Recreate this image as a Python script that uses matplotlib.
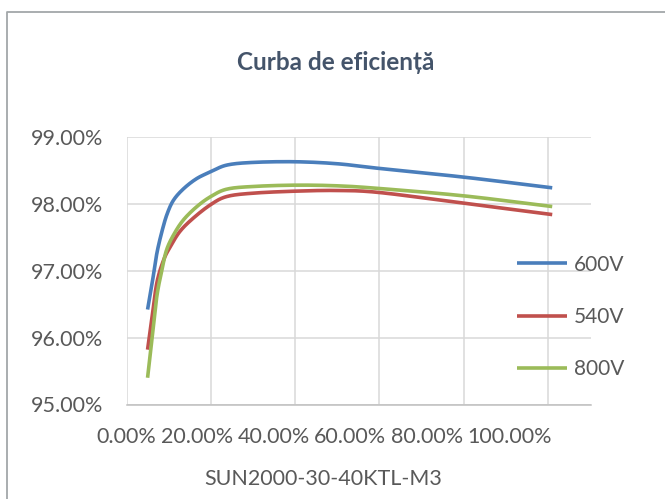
import numpy as np
import matplotlib
matplotlib.use("Agg")
import matplotlib.pyplot as plt
from matplotlib.lines import Line2D
from matplotlib.ticker import FuncFormatter

plt.rcParams['font.family'] = ['Lato', 'DejaVu Sans']

# valori (sarcina ca fractie, randament in %)
load_600 = [0.05, 0.061, 0.072, 0.085, 0.097, 0.112, 0.136, 0.167, 0.20, 0.238, 0.30, 0.40, 0.50, 0.60, 0.80, 1.01]
eff_600 = [96.42, 96.82, 97.26, 97.61, 97.86, 98.06, 98.23, 98.38, 98.48, 98.58, 98.62, 98.63, 98.60, 98.53, 98.40, 98.24]

load_540 = [0.05, 0.061, 0.072, 0.088, 0.104, 0.127, 0.159, 0.20, 0.238, 0.30, 0.40, 0.50, 0.60, 0.80, 1.01]
eff_540 = [95.82, 96.32, 96.82, 97.16, 97.36, 97.59, 97.79, 97.99, 98.11, 98.16, 98.19, 98.20, 98.17, 98.01, 97.84]

load_800 = [0.05, 0.061, 0.072, 0.084, 0.095, 0.112, 0.135, 0.167, 0.20, 0.238, 0.30, 0.40, 0.50, 0.60, 0.80, 1.01]
eff_800 = [95.40, 96.02, 96.62, 97.01, 97.31, 97.54, 97.76, 97.96, 98.11, 98.22, 98.26, 98.28, 98.27, 98.23, 98.12, 97.96]

series = ["600V", "540V", "800V"]
x_ticks = [0.0, 0.2, 0.4, 0.6, 0.8, 1.0]
y_ticks = [95, 96, 97, 98, 99]

colors = {"600V": "#4a7ebb", "540V": "#c0504d", "800V": "#9bbb59"}
txt = "#595959"


def smooth(x, y, n=24):
    # linie netezita ca in Excel (Catmull-Rom)
    p = np.column_stack([x, y]).astype(float)
    p = np.vstack([2 * p[0] - p[1], p, 2 * p[-1] - p[-2]])
    t = np.linspace(0, 1, n)[:, None]
    out = []
    for i in range(1, len(p) - 2):
        p0, p1, p2, p3 = p[i - 1], p[i], p[i + 1], p[i + 2]
        c = 0.5 * (2 * p1 + (-p0 + p2) * t + (2 * p0 - 5 * p1 + 4 * p2 - p3) * t ** 2
                   + (-p0 + 3 * p1 - 3 * p2 + p3) * t ** 3)
        out.append(c if i == 1 else c[1:])
    out = np.vstack(out)
    return out[:, 0], out[:, 1]


fig = plt.figure(figsize=(6.65, 4.99), dpi=100)
ax = fig.add_axes([126.5 / 665, 1 - 404.5 / 499, (591 - 126.5) / 665, (404.5 - 137) / 499])

data = {"600V": (load_600, eff_600), "540V": (load_540, eff_540), "800V": (load_800, eff_800)}
for name in series:
    xs, ys = smooth(*data[name])
    ax.plot(xs, ys, color=colors[name], lw=2.6, label=name, solid_capstyle='butt')

ax.set_xlim(0, 1.102)
ax.set_ylim(95, 99)
ax.set_xticks(x_ticks)
ax.set_yticks(y_ticks)
ax.yaxis.set_major_formatter(FuncFormatter(lambda v, p: f"{v:.2f}%"))
ax.tick_params(axis='y', length=0, pad=17, labelsize=15.5, labelcolor=txt)
ax.tick_params(axis='x', length=0, labelbottom=False)
ax.grid(True, color='#d9d9d9', lw=1.1)
ax.set_axisbelow(True)
for s in ['top', 'right', 'left']:
    ax.spines[s].set_visible(False)
ax.spines['bottom'].set_color('#bfbfbf')
ax.spines['bottom'].set_linewidth(1.1)

# etichetele axei X, asezate una langa alta ca in Excel
labels = [f"{v * 100:.2f}%" for v in x_ticks]
prev = ax.annotate(labels[0], xy=(x_ticks[0], 0), xycoords=('data', 'axes fraction'),
                   xytext=(0, -16.5), textcoords='offset points', ha='center', va='top',
                   fontsize=15.5, color=txt, annotation_clip=False)
for lbl in labels[1:]:
    prev = ax.annotate(lbl, xy=(1, 0), xycoords=prev, xytext=(3.2, 0),
                       textcoords='offset points', ha='left', va='bottom',
                       fontsize=15.5, color=txt, annotation_clip=False)

leg = ax.legend(loc='center left', bbox_to_anchor=(517 / 665, 1 - 317 / 499),
                bbox_transform=fig.transFigure, frameon=False, fontsize=15,
                handlelength=2.4, handletextpad=0.35, labelspacing=1.55, borderpad=0,
                borderaxespad=0)
for t in leg.get_texts():
    t.set_color(txt)

fig.text(336 / 665, 1 - 63 / 499, "Curba de eficiență", ha='center', va='center',
         fontsize=17.5, fontweight='bold', color='#44546a')
fig.text(323 / 665, 1 - 479 / 499, "SUN2000-30-40KTL-M3", ha='center', va='center',
         fontsize=15.5, color=txt)

# chenarul graficului (vizibil doar stanga si sus)
fig.add_artist(Line2D([7 / 665, 7 / 665, 1], [0, 1 - 12 / 499, 1 - 12 / 499],
                      transform=fig.transFigure, color='#a3a7a9', lw=1.3))

fig.savefig("out.png", dpi=100)
